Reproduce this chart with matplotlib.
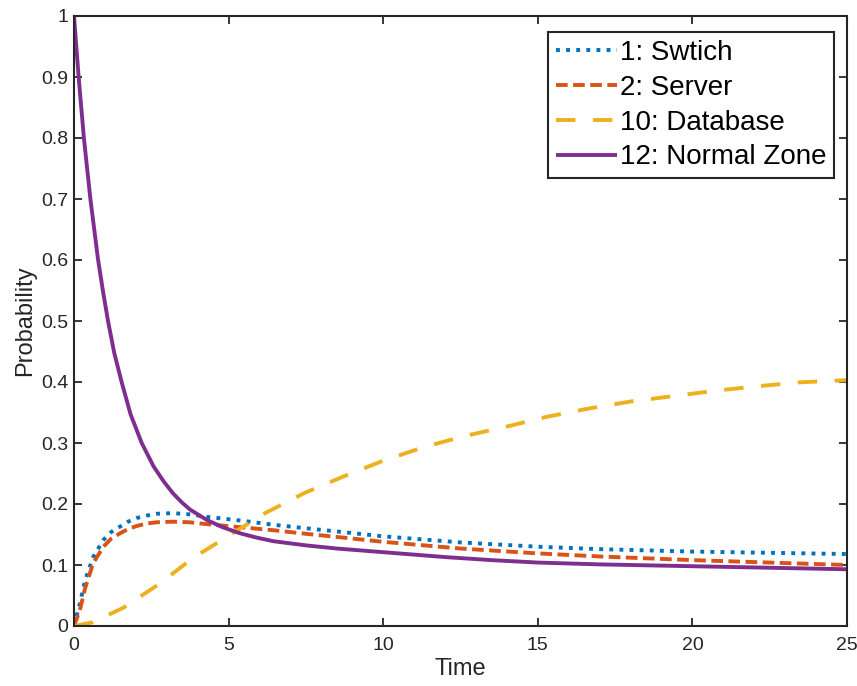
import matplotlib
matplotlib.use("Agg")
import matplotlib.pyplot as plt

plt.rcParams['font.family'] = ['Liberation Sans', 'DejaVu Sans']

# Probability of each zone over time
t_switch = [0, 0.19, 0.36, 0.62, 0.95, 1.2, 1.49, 1.75, 2.03, 2.35, 2.67, 3.21, 3.75,
            4.29, 5.37, 6.45, 7.53, 8.5, 10, 12.5, 15, 17, 20, 22.5, 25]
p_switch = [0, 0.037, 0.075, 0.113, 0.141, 0.154, 0.163, 0.171, 0.177, 0.181, 0.184,
            0.185, 0.183, 0.179, 0.173, 0.166, 0.160, 0.155, 0.147, 0.137, 0.130,
            0.126, 0.122, 0.120, 0.118]

t_server = [0, 0.19, 0.36, 0.62, 0.95, 1.2, 1.49, 1.75, 2.03, 2.35, 2.67, 3.21, 3.75,
            4.29, 5.37, 6.45, 7.53, 8.5, 10, 12.5, 15, 17, 20, 22.5, 25]
p_server = [0, 0.026, 0.062, 0.103, 0.130, 0.143, 0.152, 0.159, 0.164, 0.168, 0.170,
            0.171, 0.170, 0.167, 0.162, 0.157, 0.151, 0.146, 0.138, 0.127, 0.119,
            0.114, 0.108, 0.104, 0.100]

t_database = [0, 0.6, 1.6, 2.73, 3.86, 4.94, 6.18, 7.45, 8.71, 10, 11.3, 12.6, 14,
              15.3, 16.7, 18, 19.4, 20.8, 22.1, 23.5, 25]
p_database = [0, 0.006, 0.030, 0.068, 0.112, 0.146, 0.185, 0.218, 0.245, 0.271, 0.293,
              0.311, 0.327, 0.343, 0.357, 0.368, 0.377, 0.386, 0.393, 0.3995, 0.403]

t_normal = [0, 0.15, 0.32, 0.53, 0.78, 0.94, 1.1, 1.3, 1.54, 1.83, 2.19, 2.57, 2.9,
            3.21, 3.5, 3.75, 4.29, 4.8, 5.37, 5.9, 6.45, 7.53, 8.5, 10, 12, 13.5, 15,
            17, 20, 22.5, 25]
p_normal = [1.0, 0.9, 0.8, 0.70, 0.60, 0.548, 0.50, 0.448, 0.40, 0.347, 0.30, 0.262,
            0.237, 0.217, 0.202, 0.191, 0.174, 0.162, 0.152, 0.145, 0.139, 0.132,
            0.127, 0.121, 0.113, 0.108, 0.104, 0.101, 0.098, 0.0955, 0.093]

labels = ['1: Swtich', '2: Server', '10: Database', '12: Normal Zone']
colors = ['#0072BD', '#D95319', '#EDB120', '#7E2F8E']

x_ticks = [0, 5, 10, 15, 20, 25]
y_ticks = [0, 0.1, 0.2, 0.3, 0.4, 0.5, 0.6, 0.7, 0.8, 0.9, 1.0]
y_tick_labels = ['0', '0.1', '0.2', '0.3', '0.4', '0.5', '0.6', '0.7', '0.8', '0.9', '1']

fig = plt.figure(figsize=(8.57, 6.86), dpi=100)
ax = fig.add_axes([74 / 857, 1 - 626 / 686, (847 - 74) / 857, (626 - 16) / 686])

lw = 2.8
ax.plot(t_switch, p_switch, color=colors[0], lw=lw, dashes=(1.0, 1.6),
        dash_capstyle='butt', label=labels[0])
ax.plot(t_server, p_server, color=colors[1], lw=lw, dashes=(3.0, 1.4),
        dash_capstyle='butt', label=labels[1])
ax.plot(t_database, p_database, color=colors[2], lw=lw, dashes=(5.0, 4.5),
        dash_capstyle='butt', label=labels[2])
ax.plot(t_normal, p_normal, color=colors[3], lw=lw, solid_capstyle='butt',
        solid_joinstyle='round', label=labels[3])

ax.set_xlim(0, 25)
ax.set_ylim(0, 1)
ax.set_xticks(x_ticks)
ax.set_xticklabels([str(v) for v in x_ticks])
ax.set_yticks(y_ticks)
ax.set_yticklabels(y_tick_labels)

ax.tick_params(direction='in', length=6, width=1.3, top=True, right=True,
               labelsize=14, colors='#262626')
ax.tick_params(axis='x', pad=8)
ax.tick_params(axis='y', pad=4)
for s in ax.spines.values():
    s.set_linewidth(1.5)
    s.set_color('#262626')

ax.set_xlabel('Time', fontsize=17, color='#262626', labelpad=3)
ax.set_ylabel('Probability', fontsize=17, color='#262626', labelpad=4)

leg = ax.legend(loc='upper right', bbox_to_anchor=(834 / 857, 1 - 32 / 686),
                bbox_transform=fig.transFigure, borderaxespad=0,
                fontsize=20, frameon=True, fancybox=False, framealpha=1,
                edgecolor='#262626', handlelength=2.2, handletextpad=0.1,
                labelspacing=0.32, borderpad=0.28)
leg.get_frame().set_linewidth(1.5)

fig.savefig('out.png', dpi=100)
